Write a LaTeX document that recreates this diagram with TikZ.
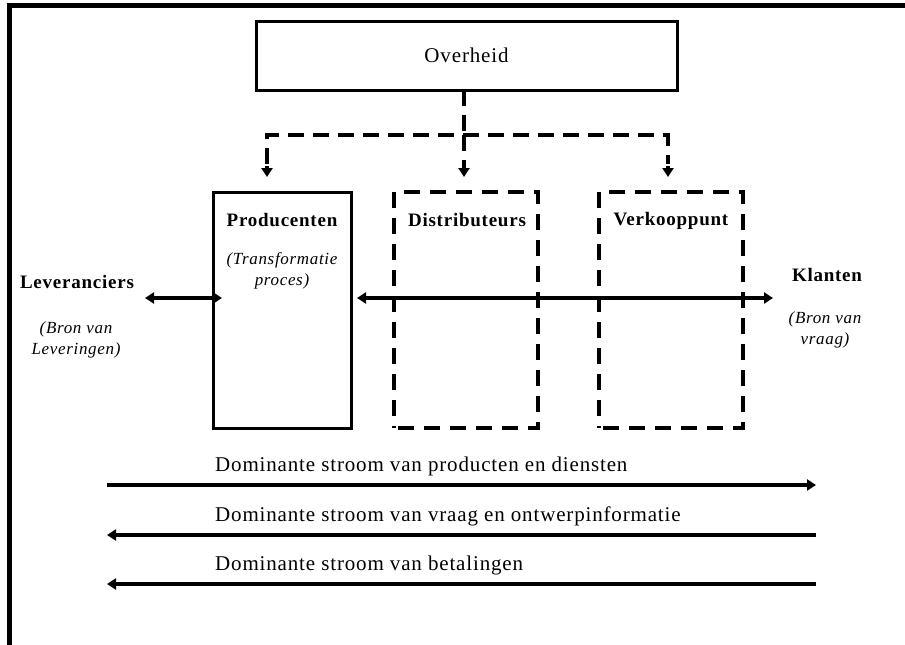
\documentclass[tikz,border=0pt]{standalone}
\usepackage{fontspec}
\setmainfont{Liberation Serif}
\newfontfamily\spc[LetterSpace=4]{Liberation Serif}
\usetikzlibrary{arrows.meta}
\begin{document}
\begin{tikzpicture}[x=1pt,y=-1pt,
  solidbox/.style={draw,line width=3pt,minimum width=#1,minimum height=236pt,inner sep=0pt},
  dashbox/.style={draw,line width=4pt,dash pattern=on 16pt off 10pt,dash phase=-4pt,minimum width=#1,minimum height=236pt,inner sep=0pt},
  lbl/.style={font=\spc\fontsize{19}{22}\selectfont\bfseries,inner sep=0pt},
  note/.style={font=\spc\fontsize{17}{21}\selectfont\itshape,align=center,inner sep=0pt},
  flowtext/.style={font=\spc\fontsize{21}{24}\selectfont,anchor=west,inner sep=0pt},
  tip/.style={-{Triangle[length=9pt,width=11pt]}},
  twotip/.style={{Triangle[length=9pt,width=11pt]}-{Triangle[length=9pt,width=11pt]}},
  link/.style={line width=4pt,dash pattern=on 16pt off 9pt},
  flow/.style={line width=4pt}]
\useasboundingbox (0,0) rectangle (905,645);
% outer frame (top and left sides)
\draw[line width=5pt] (9.5,645) -- (9.5,5.5) -- (905,5.5);

% government box
\node[draw,line width=3pt,minimum width=421pt,minimum height=69pt,inner sep=0pt] (gov) at (466.5,55.5) {};
\node[font=\spc\fontsize{21}{24}\selectfont,inner sep=0pt] (govtext) at (466.5,55) {Overheid};

% chain boxes
\node[solidbox=138pt] (prod) at (282,310) {};
\node[dashbox=144pt] (dist) at (466,310) {};
\node[dashbox=144pt] (verk) at (671,310) {};

\node[lbl] (prodtext) at (282,220) {Producenten};
\node[note] (prodnote) at (282,271) {(Transformatie\\proces)};
\node[lbl] (disttext) at (467,220) {Distributeurs};
\node[lbl] (verktext) at (671,221) {Verkooppunt};

% ends of the chain
\node[lbl] (lev) at (77,282) {Leveranciers};
\node[note] (levnote) at (76,340) {(Bron van\\Leveringen)};
\node[lbl] (klant) at (827,275) {Klanten};
\node[note] (klantnote) at (825,330) {(Bron van\\vraag)};

% government influence (dashed)
\coordinate (gbot) at (464,90);
\coordinate (jn) at (464,135);
\coordinate (jl) at (267,135);
\coordinate (jr) at (668,135);
\coordinate (sl) at (267,164);
\coordinate (sr) at (668,164);
\coordinate (tl) at (267,177);
\coordinate (tm) at (464,177);
\coordinate (tr) at (668,177);
\draw[link] (gbot) -- (jn);
\draw[link] (sl) -- (jl) -- (jr) -- (sr);
\draw[link] (jn) -- (464,166);
\draw[flow,tip] (464,165) -- (tm);
\draw[flow,tip] (267,166) -- (tl);
\draw[flow,tip] (668,166) -- (tr);

% supply / demand links
\coordinate (levend) at (145,298);
\coordinate (prodin) at (222,298);
\coordinate (chainstart) at (357,298);
\coordinate (klantend) at (773,298);
\draw[flow,twotip] (levend) -- (prodin);
\draw[flow,twotip] (chainstart) -- (klantend);

% dominant flows
\coordinate (fL1) at (107,485);
\coordinate (fR1) at (816,485);
\coordinate (fL2) at (107,535);
\coordinate (fR2) at (816,535);
\coordinate (fL3) at (107,584);
\coordinate (fR3) at (816,584);
\draw[flow,tip] (fL1) -- (fR1);
\draw[flow,tip] (fR2) -- (fL2);
\draw[flow,tip] (fR3) -- (fL3);
\node[flowtext] (ft1) at (215,466) {Dominante stroom van producten en diensten};
\node[flowtext] (ft2) at (215,516) {Dominante stroom van vraag en ontwerpinformatie};
\node[flowtext] (ft3) at (215,565) {Dominante stroom van betalingen};
\end{tikzpicture}
\end{document}
